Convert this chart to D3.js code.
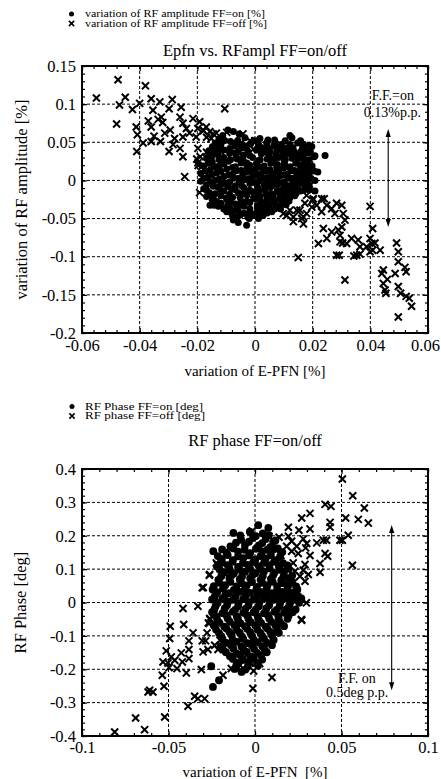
<!DOCTYPE html>
<html><head><meta charset="utf-8">
<script src="https://cdn.jsdelivr.net/npm/d3@7"></script>
<style>
body{margin:0;background:#fff}
svg{display:block}
text{font-family:"Liberation Serif","Times New Roman",serif;fill:#000}
</style>
</head><body><svg id="c" width="441" height="779"></svg>
<script>
// ---------------- DATA ----------------
const ampXTicks = [-0.06,-0.04,-0.02,0,0.02,0.04,0.06];
const ampXTickLabels = ["-0.06","-0.04","-0.02","0","0.02","0.04","0.06"];
const ampYTicks = [-0.2,-0.15,-0.1,-0.05,0,0.05,0.1,0.15];
const ampYTickLabels = ["-0.2","-0.15","-0.1","-0.05","0","0.05","0.1","0.15"];
const phaseXTicks = [-0.1,-0.05,0,0.05,0.1];
const phaseXTickLabels = ["-0.1","-0.05","0","0.05","0.1"];
const phaseYTicks = [-0.4,-0.3,-0.2,-0.1,0,0.1,0.2,0.3,0.4];
const phaseYTickLabels = ["-0.4","-0.3","-0.2","-0.1","0","0.1","0.2","0.3","0.4"];

// RF amplitude FF=off (crosses)
const ampOff = [
[-0.0475,0.132],[-0.055,0.108],[-0.045,0.109],[-0.047,0.099],[-0.038,0.124],[-0.048,0.074],[-0.0425,0.093],[-0.040,0.101],[-0.036,0.107],[-0.0354,0.092],
[-0.033,0.103],[-0.0287,0.106],[-0.0298,0.094],[-0.0256,0.096],[-0.0412,0.070],[-0.0408,0.060],[-0.041,0.038],[-0.0388,0.049],[-0.037,0.078],[-0.036,0.070],
[-0.035,0.058],[-0.036,0.051],[-0.0336,0.080],[-0.0325,0.083],[-0.032,0.076],[-0.0328,0.051],[-0.0313,0.062],[-0.0298,0.038],[-0.0294,0.066],[-0.0279,0.055],
[-0.026,0.083],[-0.025,0.075],[-0.025,0.057],[-0.0284,0.047],[-0.0238,0.068],[-0.0215,0.081],[-0.0227,0.062],[-0.0192,0.077],[-0.0198,0.068],[-0.018,0.066],
[-0.0169,0.070],[-0.0157,0.064],[-0.026,0.042],[-0.025,0.031],[-0.0204,0.057],[-0.0198,0.042],[-0.019,0.031],[-0.0186,0.018],[-0.0198,0.023],[-0.0244,0.005],
[-0.0192,-0.016],[-0.0163,0.007],[-0.0152,0.055],[-0.0134,0.062],[-0.0122,0.047],[-0.0105,0.094],[-0.0042,0.061],[-0.003,0.046],[-0.0001,0.052],
[0.004,0.046],[0.0087,0.048],
[-0.0179,0.065],[-0.0168,0.0566],[-0.0145,0.061],[-0.0133,0.048],[-0.0121,0.039],[-0.0098,0.063],[-0.0075,0.050],[-0.0098,0.028],[-0.0156,0.030],[-0.0145,0.017],
[-0.0075,0.037],[-0.0052,0.048],[-0.0017,0.052],[-0.0006,0.041],[-0.0168,0.037],[-0.0197,0.0196],[-0.0202,0.028],[-0.011,0.022],
[0.0029,-0.030],[0.0063,-0.022],[0.0087,-0.035],[0.011,-0.026],[0.0121,-0.039],[0.0133,-0.048],[0.0098,-0.0435],[0.0156,-0.039],[0.0168,-0.048],[0.0046,-0.011],
[0.0075,-0.002],[0.0133,0.0],[0.0162,-0.013],[0.0179,-0.0196],[0.0197,-0.035],
[0.0052,-0.034],[0.011,-0.046],[0.0133,-0.054],[0.0145,-0.039],[0.0168,-0.057],[0.0162,-0.050],[0.0173,-0.030],[0.0179,-0.0435],[0.0202,-0.024],[0.0214,-0.0326],
[0.0231,-0.024],[0.0231,-0.041],[0.0249,-0.0326],[0.0266,-0.037],[0.0277,-0.0435],[0.0283,-0.030],[0.0301,-0.0326],[0.0306,-0.0435],[0.0312,-0.052],[0.0237,-0.063],
[0.022,-0.0827],[0.0249,-0.076],[0.0266,-0.0675],[0.0289,-0.065],[0.0295,-0.072],[0.0301,-0.061],[0.0295,-0.0805],[0.0304,-0.082],[0.0318,-0.0827],[0.0283,-0.098],
[0.0292,-0.098],[0.0335,-0.076],[0.0358,-0.078],[0.0364,-0.087],[0.0343,-0.099],[0.0353,-0.098],[0.0364,-0.0966],[0.0387,-0.087],[0.0399,-0.034],[0.0399,-0.076],
[0.0405,-0.0827],[0.0408,-0.063],[0.0416,-0.082],[0.0399,-0.0935],[0.0408,-0.0914],[0.0434,-0.0914],[0.015,-0.101],[0.0312,-0.1305],[0.0445,-0.1175],[0.044,-0.122],
[0.0445,-0.135],[0.0459,-0.1297],[0.0451,-0.1436],[0.0454,-0.148],[0.0491,-0.082],[0.0497,-0.0935],[0.0497,-0.1066],[0.0486,-0.122],[0.052,-0.114],[0.0524,-0.1197],
[0.0497,-0.139],[0.0505,-0.148],[0.0524,-0.152],[0.0535,-0.1545],[0.0543,-0.165],[0.0497,-0.179],[0.020,-0.026],[0.024,-0.024]
];

// RF amplitude FF=on (dots)
const ampOn = [
[-0.0094,0.066],[-0.0075,0.064],
[-0.0112,0.059],[-0.0055,0.061],[0.0121,0.059],
[-0.0125,0.054],[-0.0035,0.056],[0.0017,0.055],[0.0068,0.053],[0.0128,0.056],[0.0158,0.052],
[-0.0138,0.049],[-0.0085,0.051],[-0.0015,0.048],[0.0042,0.050],[0.0092,0.047],[0.0148,0.049],[0.0188,0.046],
[-0.0148,0.044],[-0.0068,0.045],[-0.003,0.045],[0.0028,0.043],[0.0065,0.045],[0.0112,0.043],[0.0197,0.0445],
[-0.016,0.039],[-0.0108,0.040],[-0.0058,0.038],[0.0005,0.040],[0.0052,0.038],[0.0095,0.040],[0.0135,0.038],[0.0172,0.041],
[-0.0128,0.034],[-0.0088,0.036],[-0.004,0.033],[0.0022,0.035],[0.0072,0.033],[0.0112,0.035],[0.0152,0.033],[0.0185,0.036],[0.0243,0.0326],
[-0.0168,0.029],[-0.0108,0.030],[-0.0062,0.028],[-0.0008,0.030],[0.0042,0.028],[0.0082,0.030],[0.0128,0.029],[0.0168,0.028],[0.0205,0.031],
[-0.0148,0.024],[-0.0092,0.025],[-0.0028,0.023],[0.0012,0.026],[0.0058,0.024],[0.0102,0.025],[0.0142,0.023],[0.0178,0.025],
[-0.0178,0.019],[-0.0122,0.020],[-0.0068,0.018],[-0.0018,0.020],[0.0032,0.019],[0.0078,0.021],[0.0122,0.018],[0.0162,0.020],[0.0198,0.019],
[-0.0155,0.014],[-0.0098,0.015],[-0.0048,0.013],[0.0002,0.015],[0.0052,0.014],[0.0098,0.016],[0.0138,0.013],[0.0178,0.015],
[-0.0188,0.009],[-0.0132,0.010],[-0.0078,0.008],[-0.0028,0.011],[0.0022,0.009],[0.0068,0.010],[0.0112,0.008],[0.0152,0.010],[0.0188,0.009],[0.0218,0.011],
[-0.0165,0.004],[-0.0108,0.005],[-0.0058,0.003],[-0.0008,0.005],[0.0042,0.004],[0.0088,0.006],[0.0128,0.003],[0.0168,0.005],
[-0.0188,-0.001],[-0.0138,0.000],[-0.0088,-0.002],[-0.0038,0.001],[0.0012,-0.001],[0.0058,0.000],[0.0102,-0.002],[0.0142,0.001],[0.0178,-0.001],[0.0208,0.000],
[-0.0168,-0.006],[-0.0118,-0.005],[-0.0068,-0.007],[-0.0018,-0.004],[0.0032,-0.006],[0.0078,-0.005],[0.0118,-0.007],[0.0158,-0.004],[0.0188,-0.006],
[-0.0178,-0.011],[-0.0128,-0.009],[-0.0082,-0.011],[-0.0038,-0.010],[0.0012,-0.012],[0.0052,-0.009],[0.0098,-0.011],[0.0138,-0.010],[0.0172,-0.012],[0.0208,-0.014],
[-0.0158,-0.016],[-0.0108,-0.014],[-0.0058,-0.016],[-0.0008,-0.015],[0.0038,-0.017],[0.0082,-0.015],[0.0122,-0.016],[0.0158,-0.014],
[-0.0168,-0.021],[-0.0118,-0.020],[-0.0078,-0.022],[-0.0028,-0.019],[0.0018,-0.021],[0.0062,-0.020],[0.0102,-0.022],[0.0138,-0.020],
[-0.0148,-0.026],[-0.0098,-0.025],[-0.0048,-0.027],[0.0002,-0.024],[0.0042,-0.026],[0.0088,-0.025],[0.0118,-0.027],
[-0.0156,-0.0326],[-0.0118,-0.030],[-0.0068,-0.031],[-0.0018,-0.029],[0.0028,-0.031],[0.0068,-0.030],[0.0108,-0.032],
[-0.0127,-0.034],[-0.0088,-0.036],[-0.0038,-0.034],[0.0008,-0.036],[0.0048,-0.035],[0.0088,-0.037],
[-0.0098,-0.041],[-0.0058,-0.040],[-0.0018,-0.042],[0.0022,-0.040],[0.0058,-0.041],
[-0.0078,-0.046],[-0.0052,-0.0457],[-0.0008,-0.045],[0.0028,-0.046],
[-0.0075,-0.052],[-0.002,-0.050],[0.0012,-0.050],
[-0.0058,-0.055],[-0.0029,-0.0587],
[-0.0105,0.0525],[-0.006,0.0525],[0.0,0.052],[0.0045,0.053],[0.0105,0.052],
[-0.0118,0.0475],[-0.005,0.047],[0.0012,0.0475],[0.0068,0.048],[0.0122,0.047],[0.0168,0.0475],
[-0.0128,0.0425],[-0.0088,0.042],[-0.0045,0.0425],[0.0015,0.042],[0.0045,0.0428],[0.0088,0.0422],[0.0132,0.0425],[0.0165,0.043],
[-0.0138,0.0375],[-0.0082,0.037],[-0.0025,0.0378],[0.0032,0.0372],[0.0075,0.0378],[0.0115,0.0372],[0.0158,0.0375],[0.0192,0.038],
[-0.0148,0.0325],[-0.0065,0.032],[-0.0018,0.0328],[0.0048,0.0322],[0.0095,0.0325],[0.0132,0.032],[0.0168,0.0328],[0.0208,0.0325],
[-0.0125,0.0275],[-0.0085,0.027],[-0.0042,0.0278],[0.0018,0.0272],[0.0065,0.0275],[0.0105,0.027],[0.0148,0.0278],[0.0188,0.0272],
[-0.0162,0.0225],[-0.0108,0.022],[-0.0048,0.0228],[0.0005,0.0222],[0.0055,0.0225],[0.0102,0.022],[0.0142,0.0228],[0.0182,0.0222],
[-0.0135,0.0175],[-0.0078,0.017],[-0.0028,0.0178],[0.0022,0.0172],[0.0075,0.0175],[0.0118,0.017],[0.0158,0.0178],[0.0195,0.0172],
[-0.0172,0.0125],[-0.0118,0.012],[-0.0065,0.0128],[-0.0012,0.0122],[0.0038,0.0125],[0.0082,0.012],[0.0125,0.0128],[0.0168,0.0122],[0.0205,0.0125],
[-0.0148,0.0075],[-0.0092,0.007],[-0.0042,0.0078],[0.0008,0.0072],[0.0058,0.0075],[0.0102,0.007],[0.0145,0.0078],[0.0185,0.0072],
[-0.0178,0.0025],[-0.0125,0.002],[-0.0075,0.0028],[-0.0022,0.0022],[0.0028,0.0025],[0.0072,0.002],[0.0115,0.0028],[0.0155,0.0022],[0.0195,0.0025],
[-0.0155,-0.0025],[-0.0105,-0.003],[-0.0055,-0.0022],[-0.0002,-0.0028],[0.0045,-0.0025],[0.0092,-0.003],[0.0132,-0.0022],[0.0172,-0.0028],
[-0.0145,-0.0075],[-0.0095,-0.008],[-0.0045,-0.0072],[0.0008,-0.0078],[0.0058,-0.0075],[0.0102,-0.008],[0.0138,-0.0072],[0.0175,-0.0078],
[-0.0168,-0.0125],[-0.0118,-0.013],[-0.0068,-0.0122],[-0.0018,-0.0128],[0.0032,-0.0125],[0.0078,-0.013],[0.0118,-0.0122],[0.0152,-0.0128],[0.0188,-0.0125],
[-0.0138,-0.0175],[-0.0088,-0.018],[-0.0038,-0.0172],[0.0012,-0.0178],[0.0058,-0.0175],[0.0102,-0.018],[0.0142,-0.0172],
[-0.0145,-0.0225],[-0.0098,-0.023],[-0.0052,-0.0222],[-0.0005,-0.0228],[0.0042,-0.0225],[0.0085,-0.023],[0.0122,-0.0222],
[-0.0132,-0.0275],[-0.0085,-0.028],[-0.0028,-0.0272],[0.0022,-0.0278],[0.0065,-0.0275],[0.0102,-0.028],
[-0.0142,-0.0325],[-0.0095,-0.033],[-0.0048,-0.0322],[0.0008,-0.0328],[0.0048,-0.0325],[0.0088,-0.033],
[-0.0108,-0.0375],[-0.0065,-0.038],[-0.0018,-0.0372],[0.0028,-0.0378],[0.0068,-0.0375],
[-0.0082,-0.0425],[-0.0038,-0.043],[0.0005,-0.0422],[0.0042,-0.0428],
[-0.0062,-0.0475],[-0.0025,-0.048],[0.0015,-0.0472]
];

// RF phase FF=off (crosses)
const phaseOff = [
[0.0505,0.370],[0.0565,0.320],[0.0405,0.294],[0.0439,0.288],[0.0632,0.283],[0.027,0.253],[0.0318,0.267],[0.0524,0.253],[0.0597,0.249],[0.0655,0.238],
[0.0434,0.240],[0.0434,0.226],[0.0193,0.2256],[0.0254,0.2166],[0.0318,0.2205],[0.0491,0.1866],[0.0505,0.1866],[0.0539,0.2016],[0.0081,0.1986],[0.0139,0.1956],
[0.0193,0.1986],[0.0212,0.1836],[0.0183,0.1686],[0.0241,0.1686],[0.0279,0.1905],[0.0299,0.1767],[0.0293,0.1636],[0.0357,0.1786],[0.0395,0.1866],[0.0414,0.1866],
[0.015,0.1408],[0.0212,0.1537],[0.025,0.1468],[0.0318,0.1408],[0.0405,0.1468],[0.042,0.1387],[0.0376,0.1168],[0.0289,0.1138],[0.0221,0.1186],[0.0183,0.1087],
[0.0231,0.0938],[0.0279,0.0968],[0.0308,0.0839],[0.0376,0.0908],[0.0563,0.1117],[0.026,0.0788],[0.0202,0.0737],[0.0221,0.0587],[0.0289,0.0638],[0.0241,0.0339],
[0.0193,0.0389],[0.0154,0.024],[0.0297,-0.001],[0.0268,-0.051],[0.0185,-0.025],[0.0098,-0.2247],[-0.0008,-0.205],[-0.0012,-0.2577],[0.0027,-0.1828],
[-0.0416,-0.018],[-0.033,-0.011],[-0.049,-0.071],[-0.0412,-0.066],[-0.0493,-0.108],[-0.0358,-0.091],[-0.0382,-0.115],[-0.0382,-0.141],[-0.0426,-0.151],[-0.0382,-0.168],
[-0.0513,-0.145],[-0.0484,-0.163],[-0.0532,-0.178],[-0.0503,-0.181],[-0.0464,-0.173],[-0.0497,-0.195],[-0.0451,-0.198],[-0.042,-0.178],[-0.0397,-0.211],[-0.031,-0.201],
[-0.0305,-0.115],[-0.0285,-0.115],[-0.0272,-0.141],[-0.03,-0.148],[-0.0266,-0.063],[-0.0277,-0.091],[-0.0233,-0.128],[-0.0262,-0.048],[-0.0214,-0.141],[-0.0137,-0.198],
[-0.0098,-0.195],[-0.005,-0.158],[-0.003,-0.181],[-0.0185,-0.218],[-0.0609,-0.263],[-0.0618,-0.268],[-0.059,-0.268],[-0.0526,-0.251],[-0.0349,-0.281],[-0.033,-0.288],
[-0.0291,-0.288],[-0.0387,-0.311],[-0.0522,-0.343],[-0.069,-0.346],[-0.0638,-0.381],[-0.0811,-0.388],[-0.0536,-0.218],
[-0.0224,0.1187],[-0.0262,0.084],[-0.0169,0.084],[-0.0305,0.044],
[-0.0016,0.2145],[-0.0202,0.1246],[-0.022,0.1147],[-0.0264,0.0818],[-0.0299,0.045],[-0.026,-0.051],[-0.027,-0.061],[-0.0202,-0.113],[-0.0087,-0.188],[-0.0025,-0.181],
[0.0019,-0.178],[0.0145,0.0989],[0.0187,-0.025],[0.027,-0.053]
];

// RF phase FF=on (dots)
const phaseOn = [
[0.0019,0.2316],[0.0077,0.2235],
[-0.0125,0.2085],[-0.003,0.212],[0.0045,0.207],
[-0.008,0.188],[-0.0012,0.193],[0.0062,0.19],[0.0118,0.186],
[-0.0142,0.168],[-0.0058,0.172],[0.0022,0.171],[0.0088,0.166],
[-0.0241,0.1537],[-0.0165,0.149],[-0.0098,0.152],[-0.0028,0.148],[0.0042,0.153],[0.0106,0.159],[0.0158,0.151],
[-0.0192,0.131],[-0.0128,0.127],[-0.0068,0.133],[0.0002,0.129],[0.0062,0.132],[0.0122,0.127],
[-0.0218,0.108],[-0.0158,0.112],[-0.0098,0.107],[-0.0042,0.113],[0.0022,0.109],[0.0082,0.112],[0.0138,0.108],[0.0188,0.111],
[-0.0178,0.091],[-0.0122,0.087],[-0.0058,0.092],[0.0002,0.088],[0.0052,0.093],[0.0112,0.089],[0.0168,0.092],
[-0.0212,0.068],[-0.0148,0.072],[-0.0088,0.069],[-0.0028,0.073],[0.0032,0.068],[0.0092,0.071],[0.0152,0.067],[0.0198,0.072],
[-0.0238,0.049],[-0.0172,0.052],[-0.0108,0.048],[-0.0048,0.051],[0.0012,0.047],[0.0072,0.052],[0.0128,0.049],[0.0188,0.051],[0.0238,0.048],
[-0.0218,0.031],[-0.0152,0.028],[-0.0088,0.032],[-0.0028,0.029],[0.0038,0.031],[0.0098,0.028],[0.0158,0.032],[0.0218,0.029],
[-0.0248,0.009],[-0.0188,0.012],[-0.0128,0.008],[-0.0068,0.011],[-0.0008,0.009],[0.0052,0.012],[0.0108,0.008],[0.0168,0.011],[0.0228,0.009],[0.0268,0.012],
[-0.0228,-0.011],[-0.0162,-0.008],[-0.0098,-0.012],[-0.0038,-0.009],[0.0022,-0.011],[0.0082,-0.008],[0.0142,-0.012],[0.0198,-0.009],
[-0.0248,-0.029],[-0.0188,-0.032],[-0.0128,-0.028],[-0.0068,-0.031],[-0.0008,-0.029],[0.0052,-0.032],[0.0112,-0.028],[0.0168,-0.031],[0.0218,-0.029],
[-0.0218,-0.052],[-0.0158,-0.048],[-0.0098,-0.051],[-0.0038,-0.049],[0.0022,-0.052],[0.0082,-0.048],[0.0138,-0.051],[0.0188,-0.049],
[-0.0238,-0.069],[-0.0178,-0.072],[-0.0118,-0.068],[-0.0058,-0.071],[0.0002,-0.069],[0.0062,-0.072],[0.0118,-0.068],[0.0168,-0.071],
[-0.0208,-0.092],[-0.0148,-0.088],[-0.0088,-0.091],[-0.0028,-0.089],[0.0032,-0.092],[0.0088,-0.088],[0.0138,-0.091],
[-0.0188,-0.108],[-0.0128,-0.112],[-0.0068,-0.109],[-0.0008,-0.111],[0.0052,-0.108],[0.0108,-0.112],
[-0.0198,-0.131],[-0.0138,-0.128],[-0.0078,-0.132],[-0.0018,-0.129],[0.0042,-0.131],[0.0098,-0.128],
[-0.0168,-0.149],[-0.0108,-0.152],[-0.0048,-0.148],[0.0012,-0.151],[0.0068,-0.149],
[-0.0128,-0.169],[-0.0068,-0.172],[-0.0008,-0.168],[0.0042,-0.171],
[-0.0253,-0.191],[-0.0108,-0.188],[-0.0042,-0.192],[0.0018,-0.189],
[-0.0078,-0.208],
[-0.0208,-0.233],[-0.0243,-0.253],
[-0.0085,0.201],[0.0005,0.199],[0.008,0.202],
[-0.011,0.179],[-0.0035,0.182],[0.0042,0.178],[0.0105,0.181],
[-0.019,0.159],[-0.0125,0.162],[-0.006,0.158],[0.0005,0.161],[0.0072,0.158],[0.0132,0.162],
[-0.0215,0.139],[-0.0158,0.142],[-0.0098,0.138],[-0.0035,0.141],[0.0032,0.139],[0.0092,0.142],[0.0145,0.138],
[-0.019,0.119],[-0.013,0.122],[-0.007,0.118],[-0.001,0.121],[0.0052,0.119],[0.011,0.122],[0.0162,0.118],
[-0.0205,0.099],[-0.0148,0.102],[-0.0088,0.098],[-0.0028,0.101],[0.0032,0.099],[0.0085,0.102],[0.0142,0.098],[0.0195,0.101],
[-0.0195,0.079],[-0.0135,0.082],[-0.0075,0.078],[-0.0015,0.081],[0.0045,0.079],[0.0105,0.082],[0.0165,0.078],[0.0215,0.081],
[-0.0205,0.059],[-0.0142,0.062],[-0.0078,0.058],[-0.0018,0.061],[0.0042,0.059],[0.0102,0.062],[0.016,0.058],[0.0215,0.061],
[-0.0245,0.039],[-0.0185,0.042],[-0.0122,0.038],[-0.0058,0.041],[0.0008,0.039],[0.0068,0.042],[0.0128,0.038],[0.0188,0.041],[0.0245,0.039],
[-0.0232,0.019],[-0.0172,0.022],[-0.0112,0.018],[-0.0052,0.021],[0.0012,0.019],[0.0072,0.022],[0.0135,0.018],[0.0195,0.021],[0.025,0.019],
[-0.0215,-0.001],[-0.0155,0.002],[-0.0095,-0.002],[-0.0035,0.001],[0.0025,-0.001],[0.0085,0.002],[0.0145,-0.002],[0.0205,0.001],[0.0255,-0.001],
[-0.0235,-0.021],[-0.0175,-0.018],[-0.0115,-0.022],[-0.0055,-0.019],[0.0005,-0.021],[0.0065,-0.018],[0.0125,-0.022],[0.0185,-0.019],[0.0235,-0.021],
[-0.0225,-0.041],[-0.0165,-0.038],[-0.0105,-0.042],[-0.0045,-0.039],[0.0015,-0.041],[0.0075,-0.038],[0.0135,-0.042],[0.0195,-0.039],
[-0.0205,-0.061],[-0.0145,-0.058],[-0.0085,-0.062],[-0.0025,-0.059],[0.0035,-0.061],[0.0095,-0.058],[0.0148,-0.062],
[-0.0225,-0.081],[-0.0165,-0.078],[-0.0105,-0.082],[-0.0045,-0.079],[0.0015,-0.081],[0.0072,-0.078],[0.0128,-0.082],
[-0.0195,-0.101],[-0.0135,-0.098],[-0.0075,-0.102],[-0.0018,-0.099],[0.0042,-0.101],[0.0098,-0.098],
[-0.0165,-0.121],[-0.0105,-0.118],[-0.0045,-0.122],[0.0015,-0.119],[0.0072,-0.121],
[-0.0185,-0.141],[-0.0125,-0.138],[-0.0065,-0.142],[-0.0005,-0.139],[0.0055,-0.141],
[-0.0145,-0.161],[-0.0085,-0.158],[-0.0025,-0.162],[0.0035,-0.159],
[-0.0098,-0.181],[-0.0035,-0.178],[0.0012,-0.182],
[-0.0118,-0.199],[-0.0055,-0.201]
];

// ---------------- DRAWING ----------------
const FONT = '"Liberation Serif","Times New Roman",serif';
const svg = d3.select("#c");
svg.append("rect").attr("width",441).attr("height",779).attr("fill","#fff");

function minorValues(domain, step){
  const n = Math.round((domain[1]-domain[0])/step);
  return d3.range(n+1).map(i => +(domain[0]+i*step).toFixed(6));
}

function panel(o){
  const x = d3.scaleLinear().domain(o.xDomain).range([o.left,o.right]);
  const y = d3.scaleLinear().domain(o.yDomain).range([o.bottom,o.top]);
  const g = svg.append("g");
  const eps = 1e-9;
  // dashed grid
  g.append("g").selectAll("line").data(o.xTicks.filter(t=>t>o.xDomain[0]+eps&&t<o.xDomain[1]-eps)).enter()
    .append("line").attr("x1",d=>x(d)).attr("x2",d=>x(d)).attr("y1",o.top).attr("y2",o.bottom)
    .attr("stroke","#000").attr("stroke-width",1).attr("stroke-dasharray","3,2");
  g.append("g").selectAll("line").data(o.yTicks.filter(t=>t>o.yDomain[0]+eps&&t<o.yDomain[1]-eps)).enter()
    .append("line").attr("y1",d=>y(d)).attr("y2",d=>y(d)).attr("x1",o.left).attr("x2",o.right)
    .attr("stroke","#000").attr("stroke-width",1).attr("stroke-dasharray","3,2");

  // data: crosses then dots
  const cross = d3.symbol().type(d3.symbolX).size(o.crossSize);
  g.append("g").selectAll("path").data(o.off).enter().append("path")
    .attr("d",cross).attr("transform",d=>`translate(${x(d[0])},${y(d[1])})`)
    .attr("fill","none").attr("stroke","#000").attr("stroke-width",2);
  g.append("g").selectAll("circle").data(o.on).enter().append("circle")
    .attr("cx",d=>x(d[0])).attr("cy",d=>y(d[1])).attr("r",o.dotR).attr("fill","#000");

  // axes
  const style = sel => { sel.select(".domain").remove(); sel.selectAll("line").attr("stroke","#000").attr("stroke-width",1.2);
    sel.attr("font-family",FONT).attr("font-size",o.tickFont); sel.selectAll("text").attr("fill","#000"); };
  const xmin = minorValues(o.xDomain,o.xMinor), ymin = minorValues(o.yDomain,o.yMinor);
  const bx = g.append("g").attr("transform",`translate(0,${o.bottom})`)
    .call(d3.axisBottom(x).tickValues(o.xTicks).tickSizeInner(-5).tickSizeOuter(0).tickPadding(o.xPad).tickFormat((d,i)=>o.xLabels[i])).call(style);
  bx.selectAll("text").filter((d,i)=>i===o.xTicks.length-1).attr("dx",o.lastDx);
  g.append("g").attr("transform",`translate(0,${o.bottom})`)
    .call(d3.axisBottom(x).tickValues(xmin).tickSizeInner(-3).tickSizeOuter(0).tickFormat("")).call(style);
  g.append("g").attr("transform",`translate(0,${o.top})`)
    .call(d3.axisTop(x).tickValues(o.xTicks).tickSizeInner(-5).tickSizeOuter(0).tickFormat("")).call(style);
  g.append("g").attr("transform",`translate(0,${o.top})`)
    .call(d3.axisTop(x).tickValues(xmin).tickSizeInner(-3).tickSizeOuter(0).tickFormat("")).call(style);
  g.append("g").attr("transform",`translate(${o.left},0)`)
    .call(d3.axisLeft(y).tickValues(o.yTicks).tickSizeInner(-5).tickSizeOuter(0).tickPadding(6).tickFormat((d,i)=>o.yLabels[i])).call(style);
  g.append("g").attr("transform",`translate(${o.left},0)`)
    .call(d3.axisLeft(y).tickValues(ymin).tickSizeInner(-3).tickSizeOuter(0).tickFormat("")).call(style);
  g.append("g").attr("transform",`translate(${o.right},0)`)
    .call(d3.axisRight(y).tickValues(o.yTicks).tickSizeInner(-5).tickSizeOuter(0).tickFormat("")).call(style);
  g.append("g").attr("transform",`translate(${o.right},0)`)
    .call(d3.axisRight(y).tickValues(ymin).tickSizeInner(-3).tickSizeOuter(0).tickFormat("")).call(style);

  // frame
  g.append("rect").attr("x",o.left).attr("y",o.top).attr("width",o.right-o.left).attr("height",o.bottom-o.top)
    .attr("fill","none").attr("stroke","#000").attr("stroke-width",2);

  // title & axis labels
  g.append("text").attr("x",(o.left+o.right)/2).attr("y",o.titleY).attr("text-anchor","middle")
    .attr("font-size",16.5).text(o.title);
  g.append("text").attr("x",(o.left+o.right)/2).attr("y",o.xLabelY).attr("text-anchor","middle")
    .attr("font-size",15).style("white-space","pre").text(o.xLabel);
  g.append("text").attr("transform",`translate(${o.yLabelX},${(o.top+o.bottom)/2}) rotate(-90)`)
    .attr("text-anchor","middle").attr("dy","0.35em").attr("font-size",16.5).text(o.yLabel);

  // legend
  const L = o.legend;
  g.append("circle").attr("cx",L.x).attr("cy",L.y1).attr("r",2.5).attr("fill","#000");
  g.append("path").attr("d",d3.symbol().type(d3.symbolX).size(20)).attr("transform",`translate(${L.x},${L.y2})`)
    .attr("fill","none").attr("stroke","#000").attr("stroke-width",1.6);
  g.append("text").attr("x",L.tx).attr("y",L.y1).attr("dy","0.32em").attr("font-size",9.8)
    .attr("textLength",L.w1).attr("lengthAdjust","spacingAndGlyphs").text(L.t1);
  g.append("text").attr("x",L.tx).attr("y",L.y2).attr("dy","0.32em").attr("font-size",9.8)
    .attr("textLength",L.w2).attr("lengthAdjust","spacingAndGlyphs").text(L.t2);

  // arrow annotation
  const A = o.arrow;
  const ax = x(A.x), ay1 = y(A.y1), ay2 = y(A.y2);
  g.append("line").attr("x1",ax).attr("x2",ax).attr("y1",ay1+6).attr("y2",ay2-6).attr("stroke","#000").attr("stroke-width",1.1);
  g.append("path").attr("d",`M${ax},${ay1} L${ax-2.6},${ay1+8} L${ax+2.6},${ay1+8} Z`).attr("fill","#000");
  g.append("path").attr("d",`M${ax},${ay2} L${ax-2.6},${ay2-8} L${ax+2.6},${ay2-8} Z`).attr("fill","#000");
  A.texts.forEach(t => g.append("text").attr("x",t.x).attr("y",t.y).attr("text-anchor",t.anchor)
    .attr("font-size",14).text(t.s));
}

panel({
  left:82, right:428, top:66, bottom:333,
  xDomain:[-0.06,0.06], yDomain:[-0.2,0.15],
  xTicks:ampXTicks, xLabels:ampXTickLabels, yTicks:ampYTicks, yLabels:ampYTickLabels,
  xMinor:0.004, yMinor:0.01, tickFont:16.5, xPad:6, lastDx:-3,
  off:ampOff, on:ampOn, dotR:3.5, crossSize:34,
  title:"Epfn vs. RFampl FF=on/off", titleY:56,
  xLabel:"variation of E-PFN [%]", xLabelY:376,
  yLabel:"variation of RF amplitude  [%]", yLabelX:21,
  legend:{x:71.5, y1:14, y2:23.5, tx:85, w1:180, w2:182,
    t1:"variation of RF amplitude FF=on [%]", t2:"variation of RF amplitude FF=off [%]"},
  arrow:{x:0.0462, y1:0.0675, y2:-0.061,
    texts:[{x:414,y:100,anchor:"end",s:"F.F.=on"},{x:421,y:117,anchor:"end",s:"0.13%p.p."}]}
});

panel({
  left:82, right:428, top:469, bottom:736,
  xDomain:[-0.1,0.1], yDomain:[-0.4,0.4],
  xTicks:phaseXTicks, xLabels:phaseXTickLabels, yTicks:phaseYTicks, yLabels:phaseYTickLabels,
  xMinor:0.01, yMinor:0.02, tickFont:16.5, xPad:5, lastDx:0,
  off:phaseOff, on:phaseOn, dotR:3.9, crossSize:34,
  title:"RF phase FF=on/off", titleY:446,
  xLabel:"variation of E-PFN  [%]", xLabelY:777,
  yLabel:"RF Phase [deg]", yLabelX:20,
  legend:{x:72, y1:406.5, y2:416, tx:85, w1:118, w2:120,
    t1:"RF Phase FF=on [deg]", t2:"RF phase FF=off [deg]"},
  arrow:{x:0.079, y1:0.232, y2:-0.263,
    texts:[{x:338,y:683,anchor:"start",s:"F.F. on"},{x:326,y:697,anchor:"start",s:"0.5deg p.p."}]}
});
</script>
</body></html>
